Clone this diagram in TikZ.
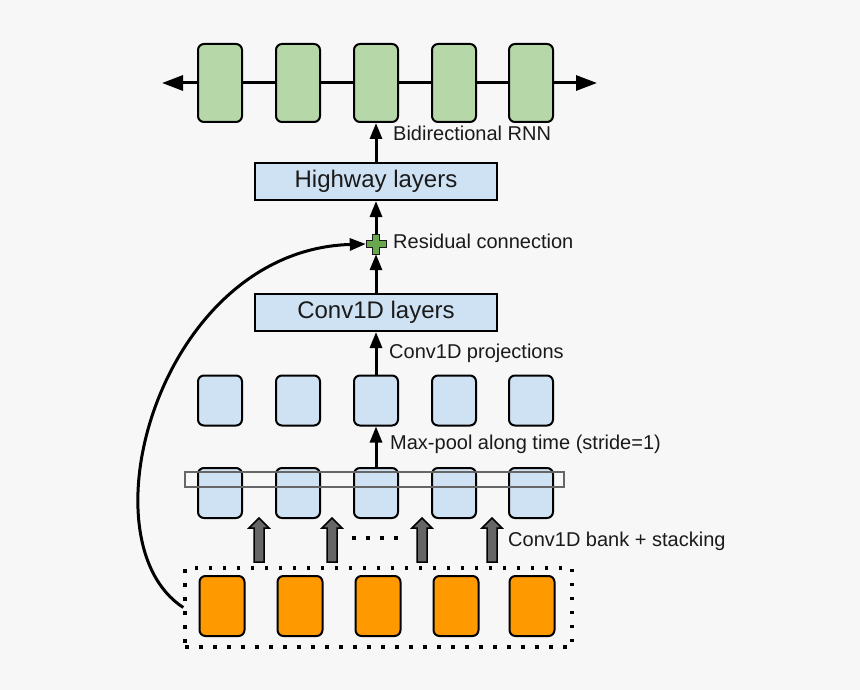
\documentclass[tikz,border=0pt]{standalone}
\usepackage{fontspec}
\setmainfont{Liberation Sans}
\usetikzlibrary{arrows.meta}
\definecolor{fondo}{HTML}{F7F7F7}
\definecolor{azul}{HTML}{CFE2F3}
\definecolor{verde}{HTML}{B6D7A8}
\definecolor{naranja}{HTML}{FF9900}
\definecolor{gris}{HTML}{666666}
\definecolor{suma}{HTML}{6AA84F}
\definecolor{texto}{HTML}{1A1A1A}
\tikzset{
  caja/.style={draw,line width=2pt,rounded corners=6pt,inner sep=0pt,minimum width=44pt},
  capa/.style={draw,line width=2pt,fill=azul,minimum width=242pt,minimum height=37pt,
    inner sep=0pt,text=texto,font=\fontsize{24}{28}\selectfont},
  flecha/.style={line width=3pt,-{Triangle[length=16pt,width=12pt]}},
  flechaH/.style={line width=3pt,-{Triangle[length=21pt,width=15pt]}},
  etiqueta/.style={anchor=base west,inner sep=0pt,text=texto,font=\fontsize{20}{24}\selectfont},
  puntos/.style={line width=3.5pt,dash pattern=on 3.5pt off 10.5pt},
}
\begin{document}
\begin{tikzpicture}[x=1pt,y=-1pt]
\fill[fondo] (0,0) rectangle (860,690);
\useasboundingbox (0,0) rectangle (860,690);
% RNN bidireccional
\coordinate (rnnL) at (162,83);
\coordinate (rnnR) at (597,83);
\foreach \i/\x in {1/220,2/298,3/376,4/454,5/531}
        \node[caja,fill=verde,minimum height=78pt] (g\i) at (\x,83) {};
\draw[flechaH] (g1) -- (rnnL);
\foreach \i/\j in {1/2,2/3,3/4,4/5}
        \draw[line width=3pt] (g\i) -- (g\j);
\draw[flechaH] (g5) -- (rnnR);
% Capas
\node[capa] (hw) at (376,181.5) {Highway layers};
\node[capa] (cl) at (376,312.5) {Conv1D layers};
\node[minimum size=20pt,inner sep=0pt] (res) at (376,244) {};
\filldraw[fill=suma,draw=texto,line width=1pt,shift={(res.center)}]
 (-3.5,-10) -- (3.5,-10) -- (3.5,-3.5) -- (10,-3.5) -- (10,3.5) -- (3.5,3.5)
 -- (3.5,10) -- (-3.5,10) -- (-3.5,3.5) -- (-10,3.5) -- (-10,-3.5) -- (-3.5,-3.5) -- cycle;
\draw[flecha] (hw) -- (g3);
\draw[flecha] (res) -- (hw);
\draw[flecha] (cl) -- (res);
% Filas azules
\foreach \i/\x in {1/220,2/298,3/376,4/454,5/531}{
        \node[caja,fill=azul,minimum height=50pt] (p\i) at (\x,400.5) {};
        \node[caja,fill=azul,minimum height=50pt] (b\i) at (\x,493) {};
}
\node[draw=gris,line width=2pt,minimum width=379pt,minimum height=15pt,inner sep=0pt] (ventana) at (374.5,479.5) {};
\draw[flecha] (p3) -- (cl);
\draw[flecha] (b3) -- (p3);
% Entrada
\foreach \i/\x in {1/222,2/300,3/378,4/456,5/532}
        \node[caja,fill=naranja,minimum height=60pt,minimum width=45pt] (o\i) at (\x,606) {};
\node[draw,puntos,minimum width=387pt,minimum height=79pt,inner sep=0pt] (entrada) at (378.5,607.5) {};
% Banco de convoluciones
\foreach \x in {259,332,422,492}
        \filldraw[fill=gris,line width=1.5pt] (\x-5,562) -- (\x-5,528) -- (\x-10,528) -- (\x,518)
         -- (\x+10,528) -- (\x+5,528) -- (\x+5,562) -- cycle;
\draw[puntos] (352,538) -- (400,538);
% Conexion residual
\draw[flecha] (entrada.west) .. controls (80,540) and (160,250) .. (res.west);
% Etiquetas
\node[etiqueta] (lrnn) at (393,141) {Bidirectional RNN};
\node[etiqueta] (lres) at (393,248) {Residual connection};
\node[etiqueta] (lproy) at (389,358) {Conv1D projections};
\node[etiqueta] (lpool) at (390,449) {Max-pool along time (stride=1)};
\node[etiqueta] (lbanco) at (508,546) {Conv1D bank + stacking};
\end{tikzpicture}
\end{document}
